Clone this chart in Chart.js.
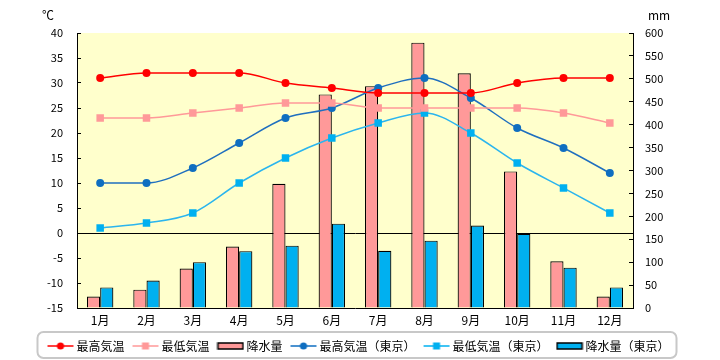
<!DOCTYPE html>
<html><head><meta charset="utf-8">
<script src="https://cdn.jsdelivr.net/npm/chart.js@4"></script>
<style>html,body{margin:0;padding:0;background:#fff}#wrap{width:720px;height:360px}</style>
</head><body><div id="wrap"><canvas id="c" width="720" height="360"></canvas></div>
<script>
const months = ['1月','2月','3月','4月','5月','6月','7月','8月','9月','10月','11月','12月'];
const maxTemp = [31,32,32,32,30,29,28,28,28,30,31,31];
const minTemp = [23,23,24,25,26,26,25,25,25,25,24,22];
const precip = [25,40,86,134,271,466,484,579,512,298,102,25];
const tokyoMax = [10,10,13,18,23,25,29,31,27,21,17,12];
const tokyoMin = [1,2,4,10,15,19,22,24,20,14,9,4];
const tokyoPrecip = [45,60,100,124,136,184,125,147,180,162,88,45];
const tempTicks = {min:-15, max:40, step:5};
const mmTicks = {min:0, max:600, step:50};

const FONT = "'Noto Sans CJK JP', sans-serif";

function legendIcon(kind, color) {
  const c = document.createElement('canvas'); c.width = 28; c.height = 12;
  const g = c.getContext('2d');
  if (kind === 'bar') {
    g.fillStyle = color; g.fillRect(1,3,26,6);
    g.strokeStyle = '#000'; g.lineWidth = 1.5; g.strokeRect(1.5,3,25,6);
  } else {
    g.strokeStyle = color; g.lineWidth = 1.5;
    g.beginPath(); g.moveTo(1,6); g.lineTo(27,6); g.stroke();
    g.fillStyle = color;
    if (kind === 'circle') { g.beginPath(); g.arc(14,6,3.6,0,Math.PI*2); g.fill(); }
    else { g.fillRect(10.5,2.5,7,7); }
  }
  return c;
}

const lineBase = {type:'line', yAxisID:'y', borderWidth:1.5, pointBorderWidth:0, cubicInterpolationMode:'monotone', order:0};
const datasets = [
  Object.assign({}, lineBase, {label:'最高気温', data:maxTemp, borderColor:'#FF0000', backgroundColor:'#FF0000', pointBackgroundColor:'#FF0000', pointStyle:'circle', pointRadius:4, _icon:legendIcon('circle','#FF0000')}),
  Object.assign({}, lineBase, {label:'最低気温', data:minTemp, borderColor:'#FF9999', backgroundColor:'#FF9999', pointBackgroundColor:'#FF9999', pointStyle:'rect', pointRadius:5.3, _icon:legendIcon('rect','#FF9999')}),
  {type:'bar', label:'降水量', data:precip, yAxisID:'y2', backgroundColor:'#FF9999', borderColor:'#000', borderWidth:1.2, order:1, _icon:legendIcon('bar','#FF9999')},
  Object.assign({}, lineBase, {label:'最高気温（東京）', data:tokyoMax, borderColor:'#1F6FBF', backgroundColor:'#0F6EC0', pointBackgroundColor:'#0F6EC0', pointStyle:'circle', pointRadius:4, _icon:legendIcon('circle','#0F6EC0')}),
  Object.assign({}, lineBase, {label:'最低気温（東京）', data:tokyoMin, borderColor:'#2BB5EE', backgroundColor:'#00B0F0', pointBackgroundColor:'#00B0F0', pointStyle:'rect', pointRadius:5.3, _icon:legendIcon('rect','#00B0F0')}),
  {type:'bar', label:'降水量（東京）', data:tokyoPrecip, yAxisID:'y2', backgroundColor:'#00B0F0', borderColor:'#000', borderWidth:1.2, order:1, _icon:legendIcon('bar','#00B0F0')}
];

const LEG_PAD = 11;
const deco = {
  id:'deco',
  afterLayout(chart){ const L = chart.legend; if (L){ L.top += 2; L.bottom += 2; } },
  beforeDraw(chart){
    const {ctx, chartArea:a} = chart;
    ctx.save(); ctx.fillStyle = '#FFFFCC';
    ctx.fillRect(a.left, a.top, a.right - a.left, a.bottom - a.top);
    ctx.restore();
  },
  afterDraw(chart){
    const ctx = chart.ctx;
    ctx.save();
    ctx.fillStyle = '#000'; ctx.font = '12px ' + FONT; ctx.textAlign = 'center'; ctx.textBaseline = 'middle';
    ctx.fillText('℃', 48, 15);
    ctx.fillText('mm', 659, 15);
    const L = chart.legend;
    if (L && L.legendHitBoxes && L.legendHitBoxes.length) {
      const hb = L.legendHitBoxes;
      const x0 = hb[0].left - 13;
      const x1 = hb[hb.length-1].left + hb[hb.length-1].width + 7;
      const cy = L.top + LEG_PAD + 6;
      ctx.strokeStyle = '#C8C8C8'; ctx.lineWidth = 2;
      ctx.beginPath(); ctx.roundRect(x0, cy - 14, x1 - x0, 26, 6); ctx.stroke();
    }
    ctx.restore();
  }
};

new Chart(document.getElementById('c'), {
  type:'bar',
  data:{labels:months, datasets:datasets},
  options:{
    responsive:false, animation:false, devicePixelRatio:1,
    layout:{padding:{top:33, left:0, right:0, bottom:0}},
    datasets:{bar:{categoryPercentage:0.57, barPercentage:1}},
    plugins:{
      tooltip:{enabled:false},
      legend:{
        position:'bottom',
        labels:{
          usePointStyle:true, pointStyleWidth:20, padding:LEG_PAD, color:'#000',
          font:{family:FONT, size:12},
          generateLabels(chart){
            return chart.data.datasets.map((d,i)=>({text:d.label, pointStyle:d._icon, datasetIndex:i, hidden:false, lineWidth:0, fillStyle:'transparent', strokeStyle:'transparent', fontColor:'#000'}));
          }
        }
      }
    },
    scales:{
      x:{
        grid:{display:true, drawOnChartArea:false, drawTicks:false},
        border:{display:true, color:'#000', width:1},
        ticks:{color:'#000', padding:5, font:{family:FONT, size:12}, maxRotation:0, autoSkip:false},
        afterFit(s){ const lh = (s.chart.legend && s.chart.legend.height) || 33; s.height = s.chart.height - lh - 308; }
      },
      y:{
        position:'left', min:tempTicks.min, max:tempTicks.max,
        ticks:{stepSize:tempTicks.step, color:'#000', padding:18, font:{family:FONT, size:11}},
        grid:{drawOnChartArea:true, drawTicks:true, tickLength:-4, tickColor:'#000', lineWidth:1,
              color:(c)=> (c.tick && c.tick.value === 0) ? '#000' : 'rgba(0,0,0,0)'},
        border:{display:true, color:'#000', width:1},
        afterFit(s){ s.width = 77; }
      },
      y2:{
        position:'right', min:mmTicks.min, max:mmTicks.max,
        ticks:{stepSize:mmTicks.step, color:'#000', padding:16, font:{family:FONT, size:11}},
        grid:{drawOnChartArea:false, drawTicks:true, tickLength:-4, tickColor:'#000'},
        border:{display:true, color:'#000', width:1},
        afterFit(s){ s.width = 87; }
      }
    }
  },
  plugins:[deco]
});
</script></body></html>
